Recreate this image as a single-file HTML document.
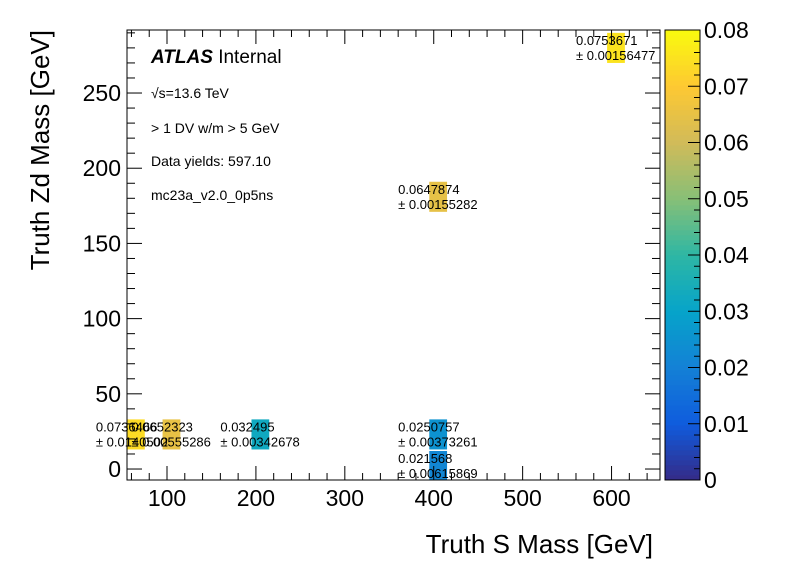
<!DOCTYPE html>
<html><head><meta charset="utf-8"><style>
body{margin:0;background:#fff;}
svg{display:block;font-family:"Liberation Sans",Arial,sans-serif;}
</style></head><body>
<svg id="c" width="796" height="572" viewBox="0 0 796 572">
<rect width="796" height="572" fill="#fff"/>
<g id="cells"></g>
<g id="labels"></g>
<rect x="127" y="30" width="533" height="450" fill="none" stroke="#000" stroke-width="1"/>
<g id="axes" stroke="#000" stroke-width="1"></g>
<g id="ticklabels" font-size="23"></g>
<g id="palette"></g>
<text x="151" y="63" font-size="19"><tspan font-weight="bold" font-style="italic">ATLAS</tspan> Internal</text>
<text x="151" y="98" font-size="14">√s=13.6 TeV</text>
<text x="151" y="133" font-size="14">&gt; 1 DV w/m &gt; 5 GeV</text>
<text x="151" y="166" font-size="14">Data yields: 597.10</text>
<text x="151" y="200" font-size="14">mc23a_v2.0_0p5ns</text>
<text x="653" y="553" font-size="26" text-anchor="end">Truth S Mass [GeV]</text>
<text transform="translate(49,30) rotate(-90)" font-size="26" text-anchor="end">Truth Zd Mass [GeV]</text>
</svg>
<script>
const sMass=[60,100,200,400,400,400,600];
const zdMass=[23,23,23,23,2,181,280];
const effVals=[0.0736,0.0652323,0.032495,0.0250757,0.021568,0.0647874,0.0753671];
const effLabels=["0.0736466","0.0652323","0.032495","0.0250757","0.021568","0.0647874","0.0753671"];
const errLabels=["± 0.0140502","± 0.00555286","± 0.00342678","± 0.00373261","± 0.00615869","± 0.00155282","± 0.00156477"];
const xTicks=[100,200,300,400,500,600];
const yTicks=[0,50,100,150,200,250];
const zTicks=[0,0.01,0.02,0.03,0.04,0.05,0.06,0.07,0.08];
const NS="http://www.w3.org/2000/svg";
const X0=127,X1=660,Y0=480,Y1=30,XMIN=55,XMAX=654.5,YMIN=-7.3,YMAX=291.9,ZMAX=0.08;
const xs=v=>X0+(v-XMIN)/(XMAX-XMIN)*(X1-X0);
const ys=v=>Y0-(v-YMIN)/(YMAX-YMIN)*(Y0-Y1);
const stops=[[0.2082,0.1664,0.5293],[0.0592,0.3599,0.8684],[0.0780,0.5041,0.8385],[0.0232,0.6419,0.7914],[0.1802,0.7178,0.6425],[0.5301,0.7492,0.4662],[0.8186,0.7328,0.3499],[0.9956,0.7862,0.1968],[0.9764,0.9832,0.0539]];
function col(z){let t=Math.max(0,Math.min(1,z/ZMAX))*(stops.length-1);let i=Math.min(Math.floor(t),stops.length-2),f=t-i;
 const c=stops[i].map((a,k)=>Math.round(255*(a+(stops[i+1][k]-a)*f)));return `rgb(${c})`;}
function mk(tag,attrs,parent){const e=document.createElementNS(NS,tag);for(const k in attrs)e.setAttribute(k,attrs[k]);parent.appendChild(e);return e;}
const cells=document.getElementById('cells'),labels=document.getElementById('labels');
for(let i=0;i<sMass.length;i++){
 const xa=Math.max(X0,xs(sMass[i]-5)),xb=Math.min(X1,xs(sMass[i]+15));
 const ya=Math.max(Y1,ys(zdMass[i]+10)),yb=Math.min(Y0,ys(zdMass[i]-10));
 const r=mk('rect',{x:xa,y:ya,width:xb-xa,height:yb-ya,fill:col(effVals[i])},cells);
 
 
 const cx=xs(sMass[i]+5)-40,cy=ys(zdMass[i]);
 const t1=mk('text',{x:cx,y:cy-3,'font-size':13},labels);t1.textContent=effLabels[i];
 
 
 const t2=mk('text',{x:cx,y:cy+12,'font-size':13},labels);t2.textContent=errLabels[i];
 
 
}
const ax=document.getElementById('axes'),tl=document.getElementById('ticklabels');
for(let v=60;v<=XMAX;v+=20){const x=xs(v),L=(v%100===0)?14:7;
 mk('line',{x1:x,x2:x,y1:Y0,y2:Y0-L},ax);mk('line',{x1:x,x2:x,y1:Y1,y2:Y1+L},ax);}
for(let v=0;v<=YMAX;v+=10){const y=ys(v),L=(v%50===0)?15:8;
 mk('line',{x1:X0,x2:X0+L,y1:y,y2:y},ax);mk('line',{x1:X1,x2:X1-L,y1:y,y2:y},ax);}
xTicks.forEach(v=>{const t=mk('text',{x:xs(v),y:506,'text-anchor':'middle'},tl);t.textContent=v;
 
 });
yTicks.forEach(v=>{const t=mk('text',{x:121,y:ys(v)+8,'text-anchor':'end'},tl);t.textContent=v;
 
 });
const pal=document.getElementById('palette');
const PX=665,PW=35;
for(let i=0;i<90;i++){const r=mk('rect',{x:PX,y:Y0-(i+1)*5,width:PW,height:5.4,fill:col((i+0.5)/90*ZMAX)},pal);
 
 }
mk('rect',{x:PX,y:Y1,width:PW,height:Y0-Y1,fill:'none',stroke:'#000'},pal);
zTicks.forEach(v=>{const y=Y0-v/ZMAX*(Y0-Y1);mk('line',{x1:PX+PW,x2:PX+PW-12,y1:y,y2:y,stroke:'#000'},pal);
 const t=mk('text',{x:704,y:y+8,'font-size':23},pal);t.textContent=v===0?'0':v.toFixed(2);
 
 });
for(let v=0.002;v<ZMAX;v+=0.002){if(Math.abs(v*100-Math.round(v*100))<1e-6)continue;const y=Y0-v/ZMAX*(Y0-Y1);
 mk('line',{x1:PX+PW,x2:PX+PW-6,y1:y,y2:y,stroke:'#000'},pal);}
</script>
</body></html>
